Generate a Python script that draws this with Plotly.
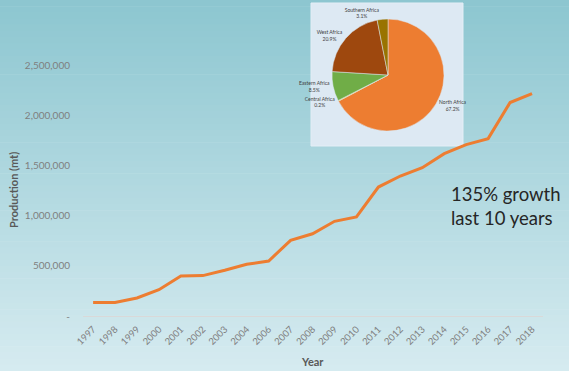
import plotly.graph_objects as go

# ---- data ----
years = ["1997", "1998", "1999", "2000", "2001", "2002", "2003", "2004", "2006",
         "2007", "2008", "2009", "2010", "2011", "2012", "2013", "2014", "2015",
         "2016", "2017", "2018"]
production = [134000, 134000, 180000, 263000, 399000, 403000, 456000, 516000, 549000,
              755000, 821000, 945000, 988000, 1287000, 1397000, 1480000, 1620000, 1710000,
              1770000, 2130000, 2220000]

y_tickvals = [0, 500000, 1000000, 1500000, 2000000, 2500000]
y_ticktext = ["-", "500,000", "1,000,000", "1,500,000", "2,000,000", "2,500,000"]

regions = ["North Africa", "Central Africa", "Eastern Africa", "West Africa", "Southern Africa"]
region_share = [67.2, 0.2, 8.5, 20.9, 3.1]
region_colors = ["#ed7d31", "#ffc000", "#70ad47", "#9e480e", "#997300"]

# ---- layout geometry (pixels) ----
W, H = 569, 371
L, R, T, B = 83, 26, 0, 55
pw, ph = W - L - R, H - T - B


def px_x(px):
    return (px - L) / pw


def px_y(py):
    return (H - B - py) / ph


fig = go.Figure()

fig.add_trace(go.Scatter(
    x=years, y=production, mode="lines",
    line=dict(color="#ed7d31", width=3),
    showlegend=False, hoverinfo="x+y",
))

fig.add_trace(go.Pie(
    labels=regions, values=region_share, sort=False, direction="clockwise",
    rotation=0,
    marker=dict(colors=region_colors, line=dict(color="#dde9f3", width=0.5)),
    textposition="outside", texttemplate="%{label}<br>%{value:.1f}%",
    textfont=dict(family="Lato", size=5, color="#404040"),
    domain=dict(x=[px_x(332), px_x(444)], y=[px_y(131), px_y(19)]),
    showlegend=False,
))

# background gradient
shapes = []
top = (140, 198, 208)
bot = (214, 235, 240)
n = 60
for i in range(n):
    t = (i + 0.5) / n
    c = tuple(round(top[k] + (bot[k] - top[k]) * t) for k in range(3))
    y0 = i * H / n
    y1 = (i + 1) * H / n + 0.6
    shapes.append(dict(type="rect", xref="paper", yref="paper", layer="below",
                       x0=px_x(0), x1=px_x(W), y0=px_y(y1), y1=px_y(y0),
                       fillcolor="rgb(%d,%d,%d)" % c, line=dict(width=0)))
# inset box behind pie
shapes.append(dict(type="rect", xref="paper", yref="paper", layer="below",
                   x0=px_x(311), x1=px_x(463), y0=px_y(146), y1=px_y(3),
                   fillcolor="#dde9f3", line=dict(color="#e4eef6", width=1)))

fig.update_layout(
    width=W, height=H,
    margin=dict(l=L, r=R, t=T, b=B, pad=0),
    paper_bgcolor="rgba(0,0,0,0)", plot_bgcolor="rgba(0,0,0,0)",
    font=dict(family="Lato", color="#7f7f7f"),
    shapes=shapes,
    xaxis=dict(type="category", range=[-0.46, 20.5], showgrid=False, zeroline=False,
               showline=True, linecolor="#d9d9d9", linewidth=1,
               ticks="outside", ticklen=3, tickcolor="rgba(0,0,0,0)",
               tickangle=-45, tickfont=dict(size=9.5, color="#7f7f7f")),
    yaxis=dict(range=[0, 316 / 50.1 * 500000], showgrid=False, zeroline=False,
               showline=False, tickvals=y_tickvals, ticktext=y_ticktext,
               ticks="outside", ticklen=10, tickcolor="rgba(0,0,0,0)",
               tickfont=dict(size=10, color="#7f7f7f")),
    annotations=[
        dict(text="135% growth<br>last 10 years", xref="paper", yref="paper",
             x=px_x(449), y=px_y(206), xanchor="left", yanchor="middle",
             align="left", showarrow=False,
             font=dict(family="Lato", size=18.5, color="#262626")),
        dict(text="<b>Production (mt)</b>", xref="paper", yref="paper",
             x=px_x(13), y=px_y(190), textangle=-90, showarrow=False,
             xanchor="center", yanchor="middle",
             font=dict(family="Lato", size=11, color="#595959")),
        dict(text="<b>Year</b>", xref="paper", yref="paper",
             x=px_x(312), y=px_y(362), showarrow=False,
             xanchor="center", yanchor="middle",
             font=dict(family="Lato", size=11, color="#595959")),
    ],
)

fig.write_html("out.html")
